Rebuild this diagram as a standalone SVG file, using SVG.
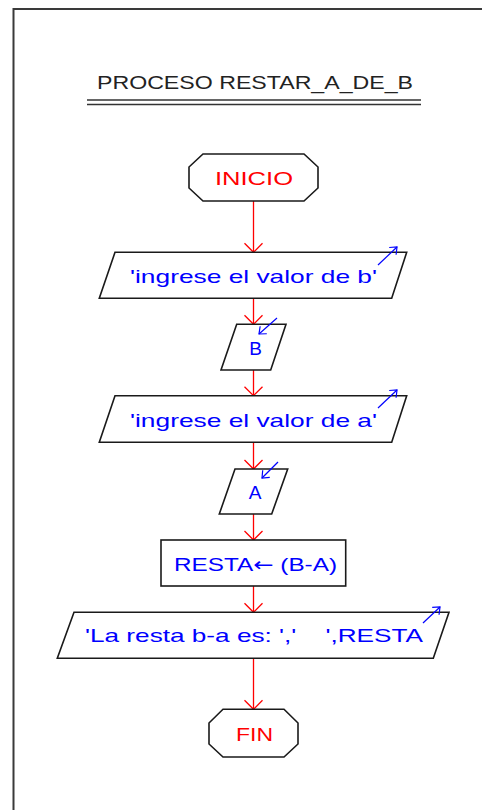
<svg xmlns="http://www.w3.org/2000/svg" width="482" height="810" viewBox="0 0 482 810">
<defs>
<style>
.frame{stroke:#3a3a3a;stroke-width:2;fill:none}
.shape{fill:#fff;stroke:#1a1a1a;stroke-width:1.6}
.conn{stroke:#ff0000;stroke-width:1.3;fill:none}
.tiny{stroke:#0000ff;stroke-width:1.2;fill:none}
.t{font-family:"Liberation Sans","DejaVu Sans",Arial,sans-serif;font-size:19px}
.blue{fill:#0000ff}
.red{fill:#ff0000}
.dark{fill:#222}
</style>
<marker id="ah" markerWidth="22" markerHeight="22" refX="11" refY="11" orient="auto" markerUnits="userSpaceOnUse">
<path d="M2,2 L11,11 L2,20" fill="none" stroke="#ff0000" stroke-width="1.3"/>
</marker>
<marker id="bh" markerWidth="12" markerHeight="12" refX="8" refY="6" orient="auto" markerUnits="userSpaceOnUse">
<path d="M2,1 L8,6 L2,11" fill="none" stroke="#0000ff" stroke-width="1.2"/>
</marker>
</defs>
<rect width="482" height="810" fill="#fff"/>
<path class="frame" d="M13.5,810 V9 H482"/>
<g id="title">
<text class="t dark" x="97" y="89" textLength="316" lengthAdjust="spacingAndGlyphs">PROCESO RESTAR_A_DE_B</text>
<line x1="87" y1="100" x2="421" y2="100" stroke="#333" stroke-width="1.5"/>
<line x1="87" y1="104.5" x2="421" y2="104.5" stroke="#333" stroke-width="1.5"/>
</g>
<g id="connectors">
<line class="conn" x1="253.5" y1="201" x2="253.5" y2="252.3" marker-end="url(#ah)"/>
<line class="conn" x1="253.5" y1="298.3" x2="253.5" y2="324.3" marker-end="url(#ah)"/>
<line class="conn" x1="253.5" y1="370" x2="253.5" y2="395.7" marker-end="url(#ah)"/>
<line class="conn" x1="253.5" y1="442.3" x2="253.5" y2="469" marker-end="url(#ah)"/>
<line class="conn" x1="253.5" y1="514" x2="253.5" y2="540" marker-end="url(#ah)"/>
<line class="conn" x1="253.5" y1="586" x2="253.5" y2="612.3" marker-end="url(#ah)"/>
<line class="conn" x1="253.5" y1="658.3" x2="253.5" y2="709.3" marker-end="url(#ah)"/>
</g>
<g id="inicio">
<polygon class="shape" points="203,154 304,154 318,167 318,188 304,201 203,201 189,188 189,167"/>
<text class="t red" x="215" y="185" textLength="78" lengthAdjust="spacingAndGlyphs">INICIO</text>
</g>
<g id="out_b">
<polygon class="shape" points="115,252.3 406.7,252.3 391.7,298.3 99.3,298.3"/>
<text class="t blue" x="130" y="283" textLength="247" lengthAdjust="spacingAndGlyphs">'ingrese el valor de b'</text>
<line class="tiny" x1="378" y1="265" x2="397" y2="247" marker-end="url(#bh)"/>
</g>
<g id="in_b">
<polygon class="shape" points="236.7,324.3 286,324.3 270.7,370 221,370"/>
<text class="t blue" x="255.5" y="355" text-anchor="middle">B</text>
<line class="tiny" x1="277" y1="318" x2="259" y2="334" marker-end="url(#bh)"/>
</g>
<g id="out_a">
<polygon class="shape" points="115,395.7 406.7,395.7 391.7,442.3 99.3,442.3"/>
<text class="t blue" x="130" y="426.5" textLength="247" lengthAdjust="spacingAndGlyphs">'ingrese el valor de a'</text>
<line class="tiny" x1="378" y1="408" x2="397" y2="390" marker-end="url(#bh)"/>
</g>
<g id="in_a">
<polygon class="shape" points="235,469 287.7,469 271.7,514 219.3,514"/>
<text class="t blue" x="255" y="499" text-anchor="middle">A</text>
<line class="tiny" x1="278" y1="462" x2="262" y2="478" marker-end="url(#bh)"/>
</g>
<g id="assign">
<rect class="shape" x="161" y="540" width="184.7" height="46"/>
<text class="t blue" x="174" y="571" textLength="163" lengthAdjust="spacingAndGlyphs">RESTA<tspan font-family="DejaVu Sans, sans-serif">←</tspan> (B-A)</text>
</g>
<g id="out_resta">
<polygon class="shape" points="74,612.3 449,612.3 433.3,658.3 57.3,658.3"/>
<text class="t blue" x="85" y="642" textLength="338" lengthAdjust="spacingAndGlyphs" xml:space="preserve">'La resta b-a es: ','    ',RESTA</text>
<line class="tiny" x1="423" y1="623" x2="440" y2="607" marker-end="url(#bh)"/>
</g>
<g id="fin">
<polygon class="shape" points="223,709.3 284,709.3 298,723 298,744 284,757 223,757 209,744 209,723"/>
<text class="t red" x="236" y="741" textLength="37" lengthAdjust="spacingAndGlyphs">FIN</text>
</g>
</svg>
